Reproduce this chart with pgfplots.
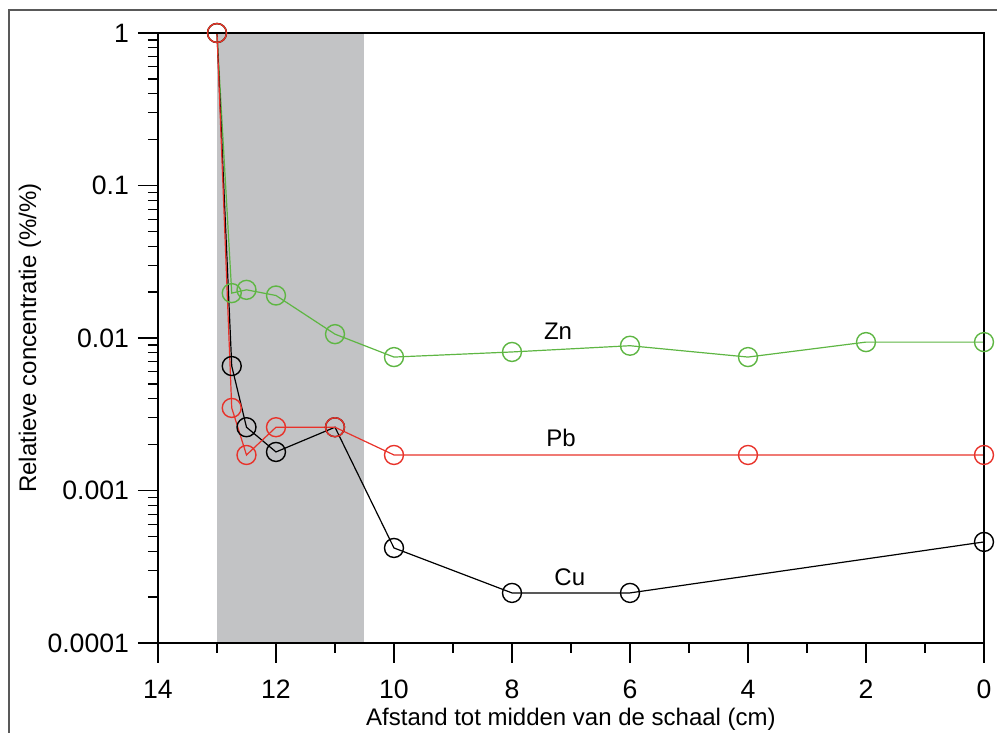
\documentclass[border=0pt]{standalone}
\usepackage{fontspec}
\setmainfont{Liberation Sans}
\usepackage{pgfplots}
\pgfplotsset{compat=1.18}
\definecolor{zn}{RGB}{94,182,67}
\definecolor{pb}{RGB}{232,50,42}
\definecolor{band}{RGB}{194,195,197}
\begin{document}
\begin{tikzpicture}
\begin{axis}[
  scale only axis, width=413pt, height=305pt,
  xmin=0, xmax=14, x dir=reverse,
  ymode=log, ymin=1e-4, ymax=1,
  xtick={0,2,...,14}, minor xtick={1,3,...,13},
  ytick={1e-4,1e-3,1e-2,1e-1,1}, yticklabels={0.0001,0.001,0.01,0.1,1},
  xtick pos=bottom, ytick pos=left, tick align=outside,
  major tick length=10pt, minor tick length=5pt,
  tick style={black, line width=0.6pt},
  axis line style={line width=0.6pt},
  axis on top,
  /pgf/number format/assume math mode=true,
  ticklabel style={font=\fontsize{13.3}{15}\selectfont},
  xticklabel style={yshift=-5pt},
  yticklabel style={xshift=-1pt},
  label style={font=\fontsize{12}{14}\selectfont},
  xlabel={Afstand tot midden van de schaal (cm)},
  ylabel={Relatieve concentratie (\%/\%)},
  xlabel style={at={(rel axis cs:0.5,0)}, anchor=center, yshift=-38pt},
  ylabel style={at={(rel axis cs:0,0.5)}, anchor=center, yshift=64pt},
]
\fill[band] (axis cs:13,1e-4) rectangle (axis cs:10.5,1);
\addplot[zn, line width=0.6pt, mark=o, mark size=4.75pt, mark options={line width=0.7pt}] coordinates {
 (13,1) (12.75,0.0197) (12.5,0.0207) (12,0.019) (11,0.0106) (10,0.0075) (8,0.0081) (6,0.0089) (4,0.0075) (2,0.0094) (0,0.0094)};
\addplot[black, line width=0.6pt, mark=o, mark size=4.75pt, mark options={line width=0.7pt}] coordinates {
 (13,1) (12.75,0.00655) (12.5,0.0026) (12,0.00179) (11,0.0026) (10,0.00042) (8,0.000213) (6,0.000213) (0,0.00046)};
\addplot[pb, line width=0.6pt, mark=o, mark size=4.75pt, mark options={line width=0.7pt}] coordinates {
 (13,1) (12.75,0.00348) (12.5,0.00171) (12,0.0026) (11,0.0026) (10,0.00171) (4,0.00171) (0,0.00171)};
\node[font=\fontsize{12}{14}\selectfont] at (axis cs:7.22,0.0111) {Zn};
\node[font=\fontsize{12}{14}\selectfont] at (axis cs:7.17,0.00221) {Pb};
\node[font=\fontsize{12}{14}\selectfont] at (axis cs:7.02,0.000271) {Cu};
\end{axis}
\pgfresetboundingbox
\useasboundingbox (-79pt,-45pt) rectangle (419.5pt,321.5pt);
\draw[gray!70!black, line width=0.6pt] (-74.5pt,-46pt) -- (-74.5pt,316.5pt) -- (420pt,316.5pt);
\end{tikzpicture}
\end{document}
